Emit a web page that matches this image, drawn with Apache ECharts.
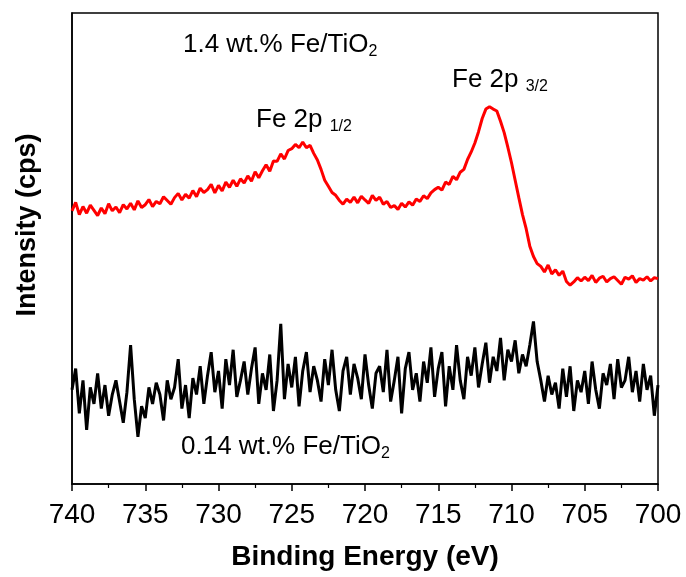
<!DOCTYPE html>
<html><head><meta charset="utf-8">
<script src="https://cdn.jsdelivr.net/npm/echarts@6/dist/echarts.min.js"></script>
<style>html,body{margin:0;padding:0;background:#fff}#c{width:686px;height:577px}</style>
</head><body><div id="c"></div>
<script>
// Binding energy grid: 740 -> 700 eV, step 0.25 eV
const eStart = 740, eStep = 0.25;
const xTicks = ['740','735','730','725','720','715','710','705','700'];

const red14 = [
58.0,59.8,57.2,58.9, 57.5,59.2,58.1,57.0, 58.6,57.4,59.5,58.0, 58.8,57.6,59.3,58.4,
59.6,58.2,60.1,58.7, 59.3,60.4,58.9,60.0, 59.5,61.0,60.2,59.4, 60.8,61.7,60.3,61.5,
60.7,62.3,61.0,62.8, 61.9,62.5,63.6,61.8, 63.4,62.2,64.1,63.0, 64.5,63.2,64.8,63.9,
65.4,64.3,66.3,65.0, 66.5,67.8,66.4,68.6, 68.5,70.1,69.0,70.8, 71.2,72.1,71.4,72.6,
71.4,71.9,70.2,68.8, 66.8,64.5,63.2,61.9, 61.3,60.2,59.4,60.5, 59.8,60.9,59.7,61.1,
60.3,59.6,61.3,60.2, 60.9,59.4,60.0,58.7, 59.1,58.3,59.6,58.8, 59.9,59.2,60.5,60.0,
61.2,60.6,61.8,62.5, 63.0,62.4,64.1,63.6, 65.3,64.6,66.2,66.8, 68.9,70.5,72.4,74.8,
77.6,79.6,80.1,79.6, 79.2,77.0,74.6,71.5, 68.2,64.5,60.8,57.2, 54.2,50.5,48.3,46.8,
46.2,45.0,46.5,44.6, 45.5,44.3,45.2,43.0, 42.2,42.9,43.8,43.1, 43.9,43.2,44.3,42.8,
43.7,44.1,42.9,43.6, 44.0,43.2,42.4,43.9, 43.5,44.2,42.8,43.6, 43.3,44.0,43.1,43.8,
43.6];

const black014 = [
20.0,24.5,15.0,22.0, 11.5,20.5,17.0,23.5, 16.0,21.0,14.5,19.0, 22.0,17.5,13.0,19.5,
29.5,18.0,10.0,16.5, 14.0,20.5,17.0,21.5, 19.0,13.5,22.0,18.0, 20.5,26.5,16.0,21.0,
14.0,22.5,19.0,25.0, 17.0,23.0,28.0,19.5, 24.0,16.0,26.5,21.0, 28.5,18.5,22.0,26.0,
19.0,24.5,29.0,17.0, 23.5,20.0,27.5,15.5, 22.0,34.0,18.0,25.5, 20.5,27.0,16.5,24.0,
28.0,19.5,25.0,22.0, 17.5,26.5,21.0,28.5, 20.0,15.5,24.0,27.0, 19.0,25.5,22.5,18.0,
27.5,21.0,16.0,23.5, 25.0,19.5,28.5,17.5, 22.0,27.0,15.0,24.5, 28.0,20.0,23.5,17.5,
26.0,21.5,29.0,18.5, 24.5,28.0,16.5,25.0, 20.0,29.5,22.0,18.0, 27.0,23.0,29.0,20.5,
25.5,30.0,21.5,27.0, 24.0,31.0,22.0,28.5, 26.0,30.5,23.5,27.5, 25.0,29.5,34.5,26.0,
22.0,17.5,23.0,19.0, 21.5,16.0,24.5,18.5, 25.0,15.5,22.0,19.5, 24.0,17.0,26.0,20.0,
16.0,23.5,21.0,25.5, 18.0,26.5,20.5,22.0, 27.0,19.5,24.0,17.5, 25.5,20.0,23.0,14.5,
21.0];

const pair = arr => arr.map((v, i) => [eStart - i * eStep, v]);

const FONT = 'Liberation Sans, Arial, sans-serif';
const richSub = {
  a: {fontSize: 26, fontFamily: FONT, fill: '#000'},
  b: {fontSize: 16, fontFamily: FONT, fill: '#000', padding: [14, 0, 0, 0]}
};
const chart = echarts.init(document.getElementById('c'), null, {renderer: 'canvas'});
chart.setOption({
  animation: false,
  backgroundColor: '#fff',
  grid: {left: 72, right: 28, top: 13, bottom: 93, show: true, borderColor: '#000', borderWidth: 1.5, backgroundColor: 'transparent'},
  xAxis: {
    type: 'value', min: 700, max: 740, interval: 5, inverse: true,
    axisLine: {show: true, lineStyle: {color: '#000', width: 1.5}},
    axisTick: {show: true, inside: false, length: 7, lineStyle: {color: '#000', width: 1.5}},
    minorTick: {show: true, splitNumber: 2, length: 4, lineStyle: {color: '#000', width: 1.2}},
    splitLine: {show: false},
    axisLabel: {color: '#000', fontSize: 28, fontFamily: FONT, margin: 17,
      formatter: v => xTicks[xTicks.indexOf(String(v))] || String(v)},
    name: 'Binding Energy (eV)', nameLocation: 'middle', nameGap: 59,
    nameTextStyle: {color: '#000', fontSize: 28, fontWeight: 'bold', fontFamily: FONT}
  },
  yAxis: {
    type: 'value', min: 0, max: 100,
    axisLine: {show: true, lineStyle: {color: '#000', width: 1.5}},
    axisTick: {show: false}, axisLabel: {show: false}, splitLine: {show: false}
  },
  series: [
    {type: 'line', data: pair(red14), showSymbol: false, symbol: 'none',
      lineStyle: {color: '#ff0000', width: 3}, z: 3},
    {type: 'line', data: pair(black014), showSymbol: false, symbol: 'none',
      lineStyle: {color: '#000', width: 3}, z: 2}
  ],
  graphic: [
    {type: 'text', x: 28, y: 225, rotation: Math.PI / 2, style: {
      text: 'Intensity (cps)', fill: '#000', font: 'bold 27px ' + FONT,
      align: 'center', verticalAlign: 'middle'}},
    {type: 'text', left: 183, top: 32, style: {text: '{a|1.4 wt.% Fe/TiO}{b|2}', rich: richSub}},
    {type: 'text', left: 256, top: 107, style: {text: '{a|Fe 2p }{b|1/2}', rich: richSub}},
    {type: 'text', left: 452, top: 67, style: {text: '{a|Fe 2p }{b|3/2}', rich: richSub}},
    {type: 'text', left: 181, top: 434, style: {text: '{a|0.14 wt.% Fe/TiO}{b|2}', rich: richSub}}
  ]
});
</script></body></html>
